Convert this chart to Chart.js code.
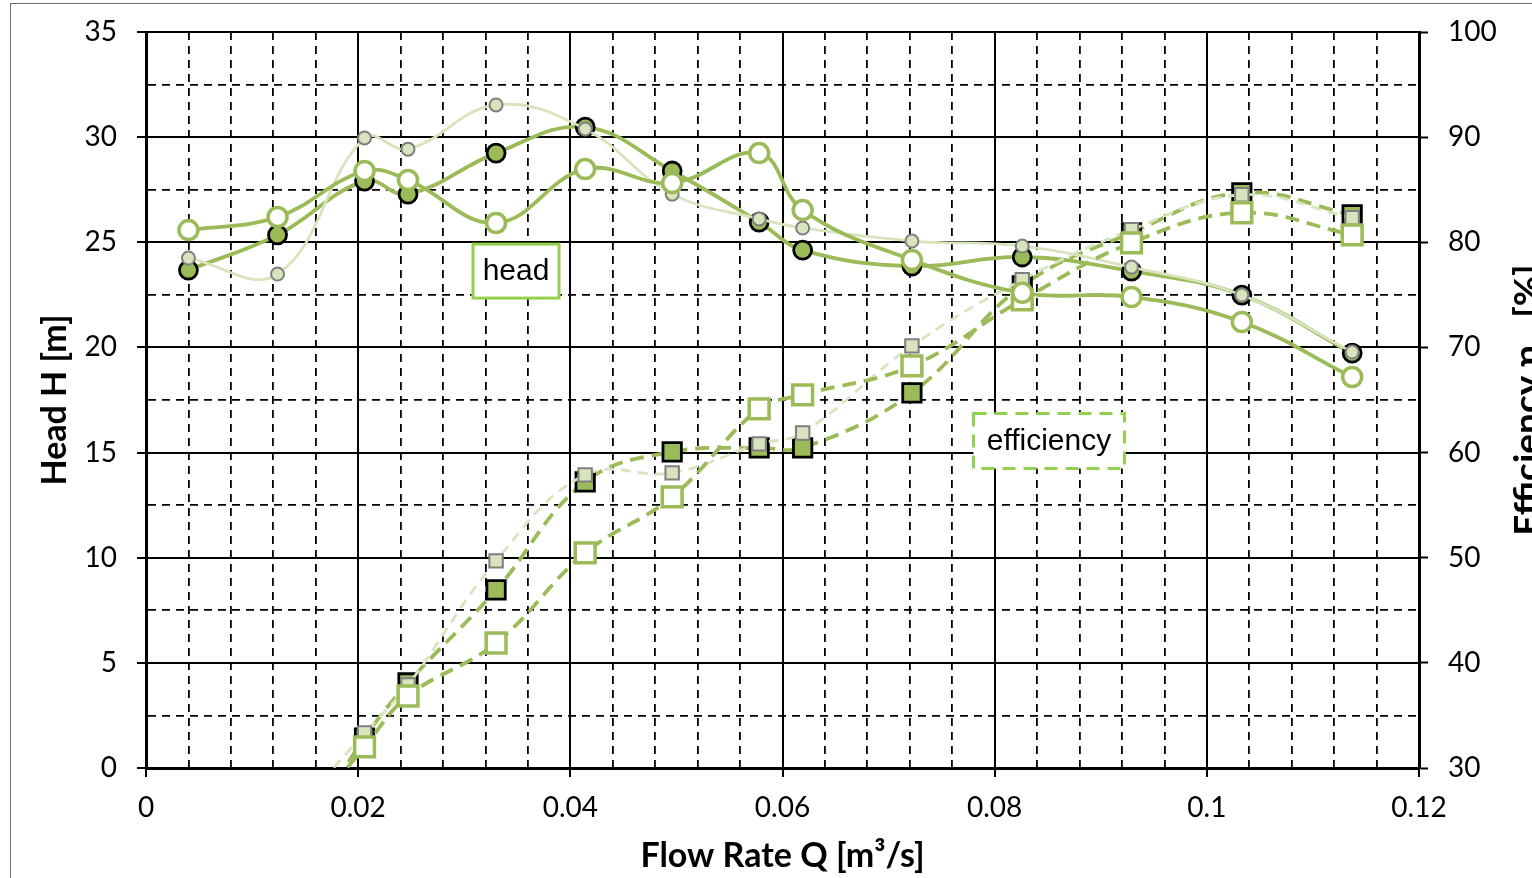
<!DOCTYPE html>
<html>
<head>
<meta charset="utf-8">
<script src="https://cdn.jsdelivr.net/npm/chart.js@4.4.1/dist/chart.umd.min.js"></script>
<style>
  html, body { margin: 0; padding: 0; background: #fff; overflow: hidden; }
  #frame { position: absolute; left: 10px; top: 3px; width: 3000px; height: 3000px; border-left: 1.5px solid #6f6f6f; border-top: 1.5px solid #6f6f6f; }
  #chart { position: absolute; left: 0; top: 0; }
</style>
</head>
<body>
<div id="frame"></div>
<canvas id="chart" width="1560" height="878"></canvas>
<script>
// flow rate Q [m3/s]
const flowRates = [0.004, 0.0124, 0.0206, 0.0247, 0.0330, 0.0414, 0.0496, 0.0578, 0.0619, 0.0722, 0.0826, 0.0929, 0.1033, 0.1137];

// head H [m]
const headFilled = [23.68, 25.35, 27.91, 27.29, 29.24, 30.48, 28.39, 25.96, 24.63, 23.87, 24.30, 23.63, 22.49, 19.73];
const headOpen   = [25.58, 26.20, 28.39, 27.96, 25.92, 28.48, 27.82, 29.24, 26.53, 24.16, 22.60, 22.40, 21.21, 18.59];
const headLight  = [24.25, 23.49, 29.96, 29.43, 31.53, 30.39, 27.29, 26.11, 25.68, 25.06, 24.82, 23.82, 22.49, 19.78];

// efficiency [%] (first point lies below the axis minimum)
const effQ      = [0.0124, 0.0206, 0.0247, 0.0330, 0.0414, 0.0496, 0.0578, 0.0619, 0.0722, 0.0826, 0.0929, 0.1033, 0.1137];
const effFilled = [20, 32.85, 38.09, 46.94, 57.21, 60.07, 60.45, 60.45, 65.68, 75.86, 80.90, 84.71, 82.62];
const effOpen   = [22, 32.00, 36.85, 41.89, 50.46, 55.78, 64.16, 65.49, 68.25, 74.53, 79.95, 82.81, 80.71];
const effLight  = [24, 33.33, 37.90, 49.70, 57.88, 58.07, 60.83, 61.87, 70.15, 76.43, 81.19, 84.52, 82.33];

const green = '#9bbb59';
const lightGreen = '#d7e4bd';
const boxGreen = '#92d050';

function pts(xs, ys) {
  return xs.map((x, i) => ({x: x, y: ys[i]}));
}

function isMajor(v, step) {
  const r = v / step;
  return Math.abs(r - Math.round(r)) < 1e-6;
}

// minor grid lines dashed, major ones solid (axis line itself stays solid)
function gridDash(step) {
  return c => (c.tick && !isMajor(c.tick.value, step)) ? [8, 6] : [];
}

function fitVertical(width) {
  return s => { s.width = width; s.paddingTop = 0; s.paddingBottom = 0; };
}

const annotations = {
  id: 'annotations',
  beforeDatasetsDraw(chart) {
    const ctx = chart.ctx;
    const xs = chart.scales.x, ys = chart.scales.y;
    const boxes = [
      {text: 'head', q: 0.03488, h: 23.63, w: 86, ht: 54, dash: []},
      {text: 'efficiency', q: 0.08512, h: 15.55, w: 151, ht: 55, dash: [13, 8]}
    ];
    ctx.save();
    boxes.forEach(b => {
      const cx = xs.getPixelForValue(b.q), cy = ys.getPixelForValue(b.h);
      ctx.fillStyle = '#fff';
      ctx.fillRect(cx - b.w / 2, cy - b.ht / 2, b.w, b.ht);
      ctx.strokeStyle = boxGreen;
      ctx.lineWidth = 3;
      ctx.setLineDash(b.dash);
      ctx.strokeRect(cx - b.w / 2, cy - b.ht / 2, b.w, b.ht);
      ctx.setLineDash([]);
      ctx.fillStyle = '#000';
      ctx.font = '30px "Liberation Sans", Arial, sans-serif';
      ctx.textAlign = 'center';
      ctx.textBaseline = 'middle';
      ctx.fillText(b.text, cx, cy + 1);
    });
    ctx.restore();
  },
  afterDraw(chart) {
    const ctx = chart.ctx;
    const area = chart.chartArea;
    ctx.save();
    ctx.translate(1540, (area.top + area.bottom) / 2);
    ctx.rotate(-Math.PI / 2);
    ctx.font = 'bold 37px Lato, sans-serif';
    ctx.fillStyle = '#000';
    ctx.textAlign = 'center';
    ctx.textBaseline = 'alphabetic';
    ctx.fillText('Efficiency η   [%]', 0, 0);
    ctx.restore();
  }
};

const tickFont = {family: 'Lato, sans-serif', size: 28};
const titleFont = {family: 'Lato, sans-serif', size: 34, weight: 'bold'};

const config = {
  type: 'line',
  data: {
    datasets: [
      {
        label: 'head open',
        data: pts(flowRates, headOpen),
        yAxisID: 'y',
        borderColor: green, borderWidth: 3.8, tension: 0.4,
        pointRadius: 9.5, pointBorderWidth: 3.5,
        pointBackgroundColor: '#fff', pointBorderColor: green
      },
      {
        label: 'efficiency open',
        data: pts(effQ, effOpen),
        yAxisID: 'y2',
        borderColor: green, borderWidth: 3.8, borderDash: [14, 8], tension: 0.4,
        pointStyle: 'rect', pointRadius: 14, pointBorderWidth: 3.5,
        pointBackgroundColor: '#fff', pointBorderColor: green
      },
      {
        label: 'head light',
        data: pts(flowRates, headLight),
        yAxisID: 'y',
        borderColor: lightGreen, borderWidth: 2.8, tension: 0.4,
        pointRadius: 6.5, pointBorderWidth: 2,
        pointBackgroundColor: lightGreen, pointBorderColor: '#7f7f7f'
      },
      {
        label: 'efficiency light',
        data: pts(effQ, effLight),
        yAxisID: 'y2',
        borderColor: lightGreen, borderWidth: 2.8, borderDash: [10, 7], tension: 0.4,
        pointStyle: 'rect', pointRadius: 9.5, pointBorderWidth: 2,
        pointBackgroundColor: lightGreen, pointBorderColor: '#7f7f7f'
      },
      {
        label: 'head filled',
        data: pts(flowRates, headFilled),
        yAxisID: 'y',
        borderColor: green, borderWidth: 3.8, tension: 0.4,
        pointRadius: 9, pointBorderWidth: 2.8,
        pointBackgroundColor: green, pointBorderColor: '#000'
      },
      {
        label: 'efficiency filled',
        data: pts(effQ, effFilled),
        yAxisID: 'y2',
        borderColor: green, borderWidth: 3.8, borderDash: [14, 8], tension: 0.4,
        pointStyle: 'rect', pointRadius: 13, pointBorderWidth: 2.8,
        pointBackgroundColor: green, pointBorderColor: '#000'
      }
    ]
  },
  options: {
    responsive: false,
    animation: false,
    events: [],
    layout: {padding: {top: 32, left: 0, right: 0, bottom: 0}},
    plugins: {legend: {display: false}, tooltip: {enabled: false}},
    scales: {
      x: {
        type: 'linear',
        min: 0, max: 0.12,
        afterFit: s => { s.height = 110; },
        ticks: {
          stepSize: 0.004, maxTicksLimit: 100, autoSkip: false, maxRotation: 0,
          padding: 14, color: '#000', font: tickFont,
          callback: v => isMajor(v, 0.02) ? String(Math.round(v * 100) / 100) : ''
        },
        grid: {
          color: '#000',
          lineWidth: c => isMajor(c.tick.value, 0.02) ? 2 : 1.8,
          tickColor: c => isMajor(c.tick.value, 0.02) ? '#000' : 'rgba(0,0,0,0)',
          tickLength: 9, tickWidth: 2
        },
        border: {color: '#000', width: 3, dash: gridDash(0.02)},
        title: {display: true, text: 'Flow Rate Q [m³/s]', color: '#000', font: titleFont, padding: {top: 0, bottom: 2}}
      },
      y: {
        position: 'left',
        min: 0, max: 35,
        afterFit: fitVertical(146),
        ticks: {
          stepSize: 2.5, maxTicksLimit: 100, autoSkip: false,
          padding: 20, color: '#000', font: tickFont,
          callback: v => isMajor(v, 5) ? String(v) : ''
        },
        grid: {
          color: '#000',
          lineWidth: c => isMajor(c.tick.value, 5) ? 2 : 1.8,
          tickColor: c => isMajor(c.tick.value, 5) ? '#000' : 'rgba(0,0,0,0)',
          tickLength: 9, tickWidth: 2
        },
        border: {color: '#000', width: 3, dash: gridDash(5)},
        title: {display: true, text: 'Head H [m]', color: '#000', font: titleFont, padding: {top: 35, bottom: 0}}
      },
      y2: {
        position: 'right',
        min: 30, max: 100,
        afterFit: fitVertical(141),
        ticks: {
          stepSize: 10, maxTicksLimit: 100, autoSkip: false,
          padding: 20, color: '#000', font: tickFont
        },
        grid: {
          drawOnChartArea: false,
          color: '#000', tickColor: '#000', tickLength: 9, tickWidth: 2
        },
        border: {color: '#000', width: 3}
      }
    }
  },
  plugins: [annotations]
};

const ctx = document.getElementById('chart').getContext('2d');
const pumpChart = new Chart(ctx, config);
</script>
</body>
</html>
